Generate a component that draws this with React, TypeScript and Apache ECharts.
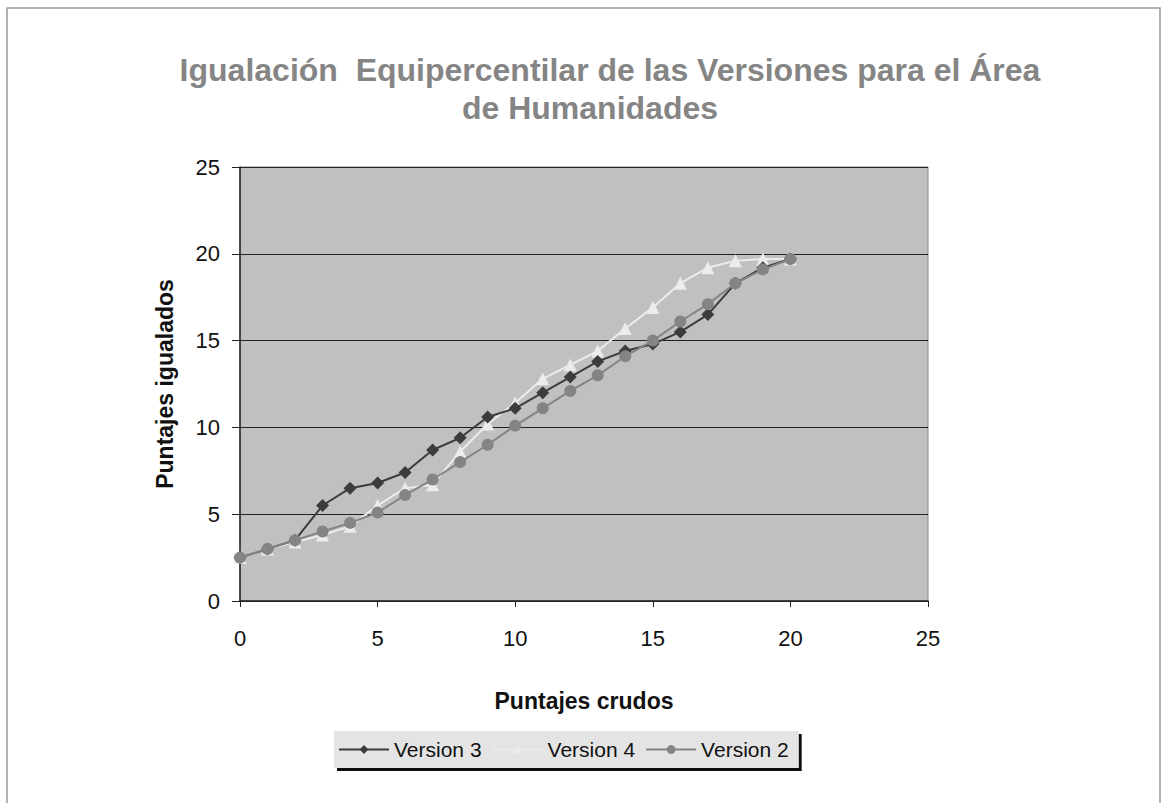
import React, { useEffect, useRef } from "react";
import * as echarts from "echarts";

const xValues = [0, 1, 2, 3, 4, 5, 6, 7, 8, 9, 10, 11, 12, 13, 14, 15, 16, 17, 18, 19, 20];
const version3 = [2.5, 3.0, 3.5, 5.5, 6.5, 6.8, 7.4, 8.7, 9.4, 10.6, 11.1, 12.0, 12.9, 13.8, 14.4, 14.8, 15.5, 16.5, 18.3, 19.2, 19.7];
const version4 = [2.5, 3.0, 3.4, 3.8, 4.3, 5.5, 6.5, 6.7, 8.6, 10.2, 11.4, 12.8, 13.6, 14.4, 15.7, 16.9, 18.3, 19.2, 19.6, 19.7, 19.7];
const version2 = [2.5, 3.0, 3.5, 4.0, 4.5, 5.1, 6.1, 7.0, 8.0, 9.0, 10.1, 11.1, 12.1, 13.0, 14.1, 15.0, 16.1, 17.1, 18.3, 19.1, 19.7];
const seriesNames = ["Version 3", "Version 4", "Version 2"];
const titleLines = ["Igualación  Equipercentilar de las Versiones para el Área", "de Humanidades"];

const pairs = (ys: number[]) => xValues.map((x, i) => [x, ys[i]]);

export default function App() {
  const ref = useRef<HTMLDivElement>(null);
  useEffect(() => {
    if (!ref.current) return;
    const chart = echarts.init(ref.current, undefined, { renderer: "svg" });
    const font = "'Liberation Sans', Arial, sans-serif";
    const titleStyle = { fontSize: 32, fontWeight: "bold", color: "#858585", fontFamily: font };
    chart.setOption({
      animation: false,
      backgroundColor: "#ffffff",
      textStyle: { fontFamily: font },
      title: [
        { text: titleLines[0], left: 610, top: 54, textAlign: "center", padding: 0, textStyle: titleStyle },
        { text: titleLines[1], left: 590, top: 92, textAlign: "center", padding: 0, textStyle: titleStyle },
      ],
      graphic: [
        {
          type: "rect",
          shape: { x: 7, y: 8, width: 1153, height: 800 },
          style: { fill: "none", stroke: "#9a9a9a", lineWidth: 1.5 },
          silent: true,
        },
      ],
      grid: { left: 240, right: 239, top: 167, bottom: 202, show: true, backgroundColor: "#c0c0c0", borderColor: "#8a8a8a", borderWidth: 1 },
      xAxis: {
        type: "value",
        min: 0,
        max: 25,
        interval: 5,
        name: "Puntajes crudos",
        nameLocation: "middle",
        nameGap: 88,
        nameTextStyle: { fontSize: 23, fontWeight: "bold", color: "#111", fontFamily: font },
        axisLine: { lineStyle: { color: "#222", width: 1.5 } },
        axisTick: { show: true, length: 6, lineStyle: { color: "#222" } },
        axisLabel: { fontSize: 22, color: "#111", margin: 26, fontFamily: font },
        splitLine: { show: false },
      },
      yAxis: {
        type: "value",
        min: 0,
        max: 25,
        interval: 5,
        name: "Puntajes igualados",
        nameLocation: "middle",
        nameGap: 64,
        nameTextStyle: { fontSize: 23, fontWeight: "bold", color: "#111", fontFamily: font },
        axisLine: { show: true, lineStyle: { color: "#222", width: 1.5 } },
        axisTick: { show: true, length: 8, lineStyle: { color: "#222" } },
        axisLabel: { fontSize: 22, color: "#111", margin: 20, fontFamily: font },
        splitLine: { show: true, lineStyle: { color: "#222", width: 1.2 } },
      },
      legend: {
        data: seriesNames,
        left: 334,
        top: 731,
        padding: [8, 10, 8, 4],
        itemGap: 10,
        itemWidth: 50,
        itemHeight: 11,
        backgroundColor: "#e4e4e4",
        shadowColor: "#111",
        shadowOffsetX: 3,
        shadowOffsetY: 3,
        shadowBlur: 0,
        textStyle: { fontSize: 21, color: "#111", fontFamily: font },
      },
      series: [
        {
          name: seriesNames[0],
          type: "line",
          data: pairs(version3),
          symbol: "diamond",
          symbolSize: 13,
          color: "#3c3c3c",
          lineStyle: { color: "#3c3c3c", width: 2 },
          itemStyle: { color: "#3c3c3c" },
          z: 3,
        },
        {
          name: seriesNames[1],
          type: "line",
          data: pairs(version4),
          symbol: "triangle",
          symbolSize: 13,
          color: "#ececec",
          lineStyle: { color: "#ececec", width: 2 },
          itemStyle: { color: "#ececec" },
          z: 2,
        },
        {
          name: seriesNames[2],
          type: "line",
          data: pairs(version2),
          symbol: "circle",
          symbolSize: 12,
          color: "#848484",
          lineStyle: { color: "#848484", width: 2 },
          itemStyle: { color: "#848484" },
          z: 4,
        },
      ],
    });
    return () => chart.dispose();
  }, []);
  return <div ref={ref} style={{ position: "absolute", left: 0, top: 0, width: 1167, height: 803 }} />;
}
